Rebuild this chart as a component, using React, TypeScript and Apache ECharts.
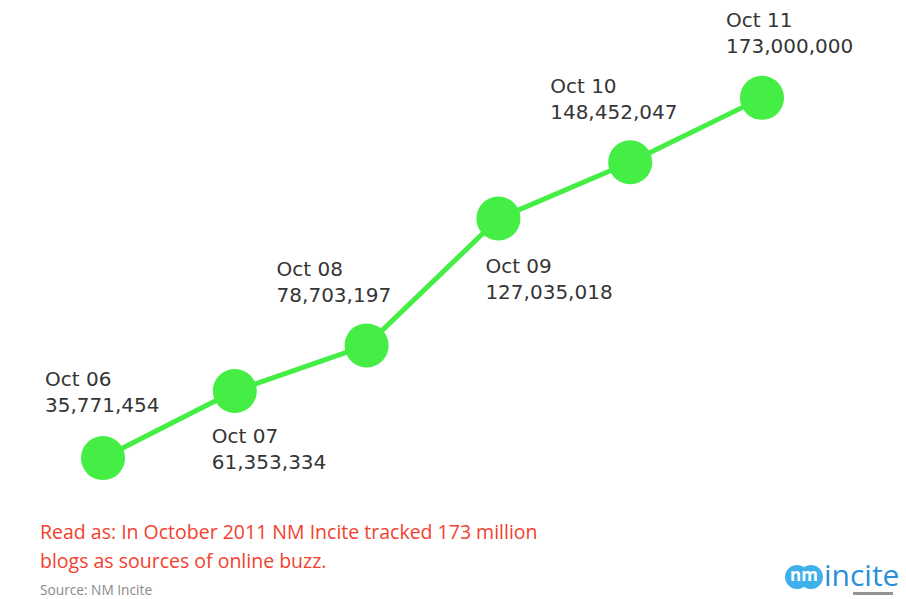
import React, { useEffect, useRef } from "react";
import * as echarts from "echarts";

const categories = ["Oct 06", "Oct 07", "Oct 08", "Oct 09", "Oct 10", "Oct 11"];
const blogCounts = [35771454, 61353334, 78703197, 127035018, 148452047, 173000000];
const noteLine1 = "Read as: In October 2011 NM Incite tracked 173 million";
const noteLine2 = "blogs as sources of online buzz.";
const sourceText = "Source: NM Incite";

const labelOffsets: [number, number][] = [
  [-36, -70],
  [-1, 54],
  [-68, -67],
  [9, 56],
  [-58, -67],
  [-14, -69],
];

const fmt = (v: number) => v.toLocaleString("en-US");

export default function App() {
  const ref = useRef<HTMLDivElement>(null);
  useEffect(() => {
    if (!ref.current) return;
    const chart = echarts.init(ref.current, null, { renderer: "svg" });
    const green = "#44ee44";
    chart.setOption({
      animation: false,
      backgroundColor: "#ffffff",
      grid: { left: 103, right: 144, top: 27, bottom: 47 },
      xAxis: {
        type: "category",
        data: categories,
        boundaryGap: false,
        show: false,
      },
      yAxis: { type: "value", min: 0, max: 200000000, show: false },
      series: [
        {
          type: "line",
          data: blogCounts.map((v, i) => ({
            value: v,
            label: {
              show: true,
              position: labelOffsets[i],
              align: "left",
              verticalAlign: "top",
              formatter: () => `${categories[i]}\n${fmt(v)}`,
            },
          })),
          symbol: "circle",
          symbolSize: 44,
          lineStyle: { color: green, width: 5 },
          itemStyle: { color: green },
          label: {
            color: "#353535",
            fontSize: 20,
            lineHeight: 26,
            fontFamily: "DejaVu Sans",
          },
        },
      ],
      graphic: [
        {
          type: "text",
          left: 40,
          top: 517,
          style: {
            text: noteLine1 + "\n" + noteLine2,
            fill: "#f2412e",
            font: "19.5px 'Open Sans'",
            lineHeight: 29,
          },
        },
        {
          type: "text",
          left: 40,
          top: 582,
          style: { text: sourceText, fill: "#8a8a8a", font: "13.7px 'Open Sans'" },
        },
        {
          type: "circle",
          shape: { cx: 797, cy: 577, r: 12 },
          style: { fill: "#3fb0ea" },
        },
        {
          type: "circle",
          shape: { cx: 811, cy: 577, r: 12 },
          style: { fill: "#3fb0ea" },
        },
        {
          type: "text",
          x: 790,
          y: 566,
          style: { text: "nm", fill: "#ffffff", font: "bold 17px 'Open Sans'" },
        },
        {
          type: "text",
          x: 824,
          y: 561,
          style: { text: "incite", fill: "#2b8fd6", font: "30px 'Open Sans'", lineHeight: 26 },
        },
        {
          type: "rect",
          shape: { x: 853, y: 592, width: 40, height: 3 },
          style: { fill: "#666666", opacity: 0.7 },
        },
      ],
    });
    return () => chart.dispose();
  }, []);
  return (
    <div
      ref={ref}
      style={{ position: "fixed", left: 0, top: 0, width: 906, height: 599 }}
    />
  );
}
